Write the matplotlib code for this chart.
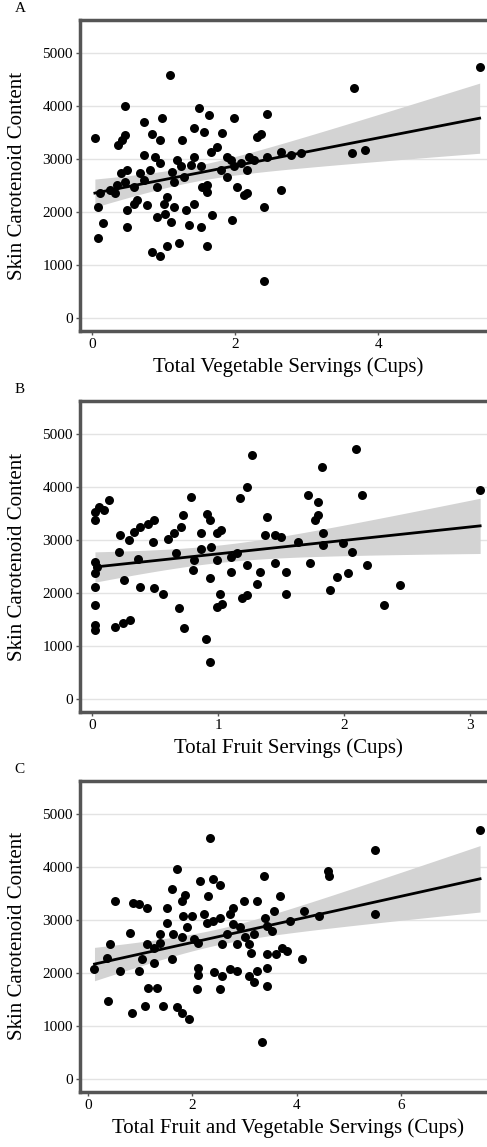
import numpy as np
import matplotlib
matplotlib.use("Agg")
import matplotlib.pyplot as plt

plt.rcParams["font.family"] = ["Liberation Serif", "DejaVu Serif"]

# Panel A: total vegetable servings vs skin carotenoid content
veg_x = [1.085, 0.46, 0.04, 0.72, 0.98, 1.49, 1.63, 1.98, 2.45, 3.66, 5.42, 3.63, 3.81,
         0.37, 0.46, 0.42, 0.95, 1.26, 1.42, 1.56, 1.82, 2.31, 2.36, 2.64, 0.72, 0.88,
         1.19, 1.66, 1.89, 1.94, 2.19, 2.08, 1.98, 1.52, 1.38, 0.49, 0.67, 0.81, 1.12,
         1.28, 0.46, 0.25, 0.11, 0.32, 0.72, 1.14, 1.61, 1.61, 2.03, 2.12, 2.17, 2.64,
         0.09, 0.49, 0.63, 0.77, 1.00, 1.02, 1.31, 1.68, 2.40, 0.16, 0.49, 1.10, 1.35,
         1.52, 1.96, 0.09, 0.84, 0.95, 1.05, 1.21, 1.61, 2.40, 0.40, 0.58, 0.91, 1.05,
         1.14, 1.42, 1.54, 1.80, 1.89, 2.26, 2.45, 2.78, 2.92, 0.95, 0.84, 0.35, 0.58,
         0.91, 1.24, 1.42, 1.75, 2.17]
veg_y = [4585, 4000, 3390, 3700, 3770, 3960, 3830, 3770, 3850, 4350, 4740, 3110, 3170,
         3260, 3450, 3360, 3360, 3360, 3580, 3520, 3500, 3420, 3480, 3140, 3080, 3040,
         2980, 3140, 3040, 2980, 3040, 2920, 2860, 2860, 2890, 2790, 2730, 2790, 2760,
         2670, 2570, 2420, 2350, 2350, 2600, 2570, 2510, 2380, 2480, 2320, 2350, 2420,
         2100, 2040, 2230, 2130, 2160, 1970, 2040, 1940, 2100, 1790, 1720, 1820, 1750,
         1720, 1850, 1500, 1250, 1160, 1350, 1410, 1360, 700, 2730, 2480, 2480, 2290,
         2100, 2160, 2480, 2790, 2670, 2980, 3040, 3080, 3110, 2920, 3480, 2510, 2160,
         1910, 2860, 3040, 3230, 2790]

# Panel B: total fruit servings
fruit_x = [0.02, 0.05, 0.09, 0.13, 0.02, 0.02, 0.02, 0.02, 0.02, 0.02, 0.02, 0.04, 0.18,
           0.24, 0.30, 0.25, 0.21, 0.22, 0.29, 0.33, 0.38, 0.44, 0.49, 0.48, 0.36, 0.38,
           0.49, 0.56, 0.60, 0.65, 0.66, 0.70, 0.72, 0.78, 0.69, 0.73, 0.80, 0.81, 0.86,
           0.86, 0.91, 0.93, 0.94, 0.90, 0.93, 0.93, 0.99, 1.02, 0.99, 1.01, 0.99, 1.03,
           1.10, 1.10, 1.15, 1.17, 1.23, 1.27, 1.19, 1.23, 1.31, 1.33, 1.23, 1.37, 1.39,
           1.45, 1.50, 1.45, 1.54, 1.54, 1.63, 1.71, 1.79, 1.82, 1.77, 1.79, 1.73, 1.83,
           1.83, 1.89, 1.94, 2.03, 1.99, 2.06, 2.09, 2.14, 2.18, 2.32, 2.44, 3.08]
fruit_y = [3530, 3630, 3570, 3750, 3380, 2590, 2370, 2120, 1770, 1400, 1300, 2500, 1360,
           1430, 1490, 2250, 2780, 3090, 3000, 3160, 3250, 3310, 3380, 2970, 2650, 2120,
           2090, 1990, 3030, 3130, 2750, 3250, 3470, 3820, 1710, 1330, 2430, 2620, 2840,
           3130, 3500, 3380, 2870, 1140, 700, 2280, 3130, 3190, 2620, 1990, 1740, 1800,
           2400, 2690, 2750, 3790, 4010, 4600, 1900, 1960, 2180, 2400, 2530, 3090, 3440,
           3090, 3060, 2560, 2400, 1990, 2970, 3850, 3720, 4380, 3380, 3470, 2560, 3130,
           2910, 2060, 2310, 2370, 2940, 2780, 4730, 3850, 2530, 1770, 2150, 3940]

# Panel C: total fruit and vegetable servings
fv_x = [0.13, 0.39, 0.84, 1.10, 1.45, 1.71, 1.80, 1.93, 0.52, 0.87, 0.99, 1.13, 0.81,
        0.42, 0.36, 0.62, 0.99, 1.03, 1.13, 1.26, 1.38, 1.26, 1.16, 1.32, 1.38, 1.51,
        1.64, 1.61, 1.61, 1.71, 1.80, 1.87, 1.83, 1.80, 2.00, 2.03, 2.12, 2.12, 2.12,
        2.09, 2.15, 2.31, 2.35, 2.40, 2.54, 2.28, 2.40, 2.54, 2.57, 2.41, 2.57, 2.54,
        2.73, 2.79, 2.73, 2.86, 2.92, 2.99, 3.02, 3.08, 3.12, 3.08, 3.18, 3.24, 3.24,
        3.37, 3.40, 3.44, 3.53, 3.44, 3.44, 3.44, 3.34, 3.60, 3.69, 3.72, 3.82, 3.88,
        4.11, 4.14, 4.43, 4.59, 4.62, 5.49, 5.49, 7.51, 1.51, 1.90, 2.22, 2.67, 2.86,
        3.18, 3.56, 2.79]
fv_y = [2070, 1470, 1250, 1380, 1380, 1350, 1250, 1130, 3360, 3330, 3300, 3230, 2760,
        2540, 2290, 2040, 2040, 2260, 2540, 2480, 2570, 2190, 1720, 1720, 2730, 2950,
        2730, 2260, 3580, 3960, 3360, 3480, 3080, 2670, 3080, 2640, 2570, 2100, 1970,
        1690, 3740, 3450, 4550, 3770, 3670, 2950, 2980, 3040, 2540, 2010, 1940, 1690,
        3110, 2920, 2070, 2040, 2860, 3360, 2670, 2540, 2380, 1940, 1820, 3360, 2040,
        3830, 3040, 2890, 2790, 2350, 2100, 1750, 690, 2350, 3450, 2480, 2420, 2980,
        2260, 3170, 3080, 3920, 3830, 4330, 3110, 4710, 3230, 2860, 3110, 2730, 2540,
        2730, 3170, 3230]

y_ticks = [0, 1000, 2000, 3000, 4000, 5000]
y_lim = (-250, 5630)

panels = [
    ("A", veg_x, veg_y, "Total Vegetable Servings (Cups)", [0, 2, 4], (-0.17, 5.55), 0.7114),
    ("B", fruit_x, fruit_y, "Total Fruit Servings (Cups)", [0, 1, 2, 3], (-0.10, 3.15), 0.3792),
    ("C", fv_x, fv_y, "Total Fruit and Vegetable Servings (Cups)", [0, 2, 4, 6], (-0.15, 7.68), 0.0480),
]

fig = plt.figure(figsize=(4.87, 11.47), dpi=100)

for letter, xs, ys, xlabel, xticks, xlim, bottom in panels:
    ax = fig.add_axes([0.164, bottom, 0.84, 0.2712])
    x = np.array(xs, dtype=float)
    y = np.array(ys, dtype=float)

    # OLS fit + 95% confidence band
    b1, b0 = np.polyfit(x, y, 1)
    n = len(x)
    resid = y - (b0 + b1 * x)
    s = np.sqrt(np.sum(resid ** 2) / (n - 2))
    xx = np.linspace(x.min(), x.max(), 200)
    se = s * np.sqrt(1 / n + (xx - x.mean()) ** 2 / np.sum((x - x.mean()) ** 2))
    fit = b0 + b1 * xx
    ax.fill_between(xx, fit - 1.98 * se, fit + 1.98 * se, color="#d3d3d3", lw=0, zorder=2)
    ax.plot(xx, fit, color="black", lw=2, zorder=3)

    ax.scatter(x, y, s=42, color="black", zorder=4, linewidths=0)

    ax.set_xlim(*xlim)
    ax.set_ylim(*y_lim)
    ax.set_xticks(xticks)
    ax.set_yticks(y_ticks)
    ax.yaxis.grid(True, color="#e3e3e3", lw=1)
    ax.set_axisbelow(True)
    for side in ["left", "bottom", "top", "right"]:
        ax.spines[side].set_color("#555555")
        ax.spines[side].set_linewidth(2.5)
    ax.tick_params(direction="out", length=3, width=1, color="#555555",
                   labelsize=11, pad=2)
    ax.set_xlabel(xlabel, fontsize=15)
    ax.xaxis.set_label_coords(0.51, -0.085)
    ax.set_ylabel("Skin Carotenoid Content", fontsize=15)
    ax.yaxis.set_label_coords(-0.13, 0.5)
    ax.text(-0.16, 1.015, letter, transform=ax.transAxes, fontsize=11, ha="left", va="bottom")

fig.savefig("out.png", dpi=100)
